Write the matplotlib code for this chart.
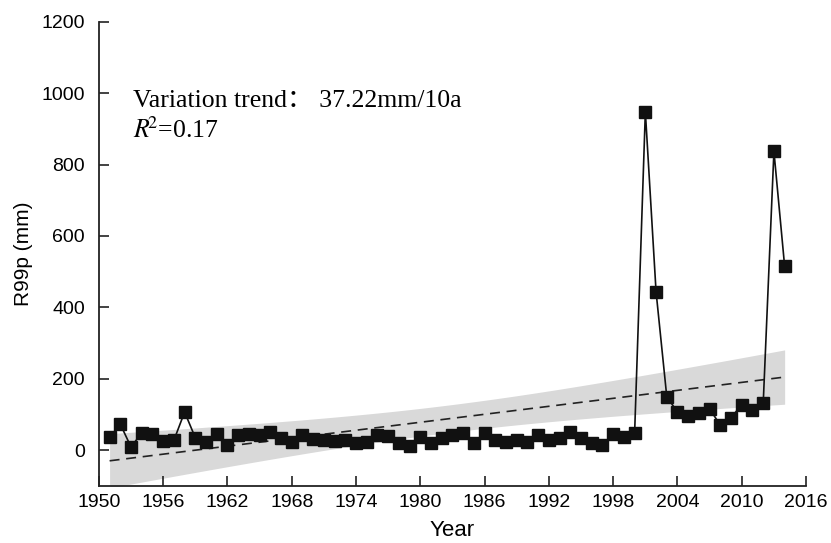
import numpy as np
import matplotlib
matplotlib.use("Agg")
import matplotlib.pyplot as plt

plt.rcParams['font.family'] = ['Liberation Sans', 'DejaVu Sans']
plt.rcParams['mathtext.fontset'] = 'stix'

# annual R99p (mm), 1951-2014
years = np.arange(1951, 2015)
r99p = [37, 73, 9, 49, 46, 25, 28, 107, 35, 23,
        46, 14, 44, 46, 44, 51, 33, 23, 42, 31,
        29, 27, 29, 19, 23, 42, 40, 21, 13, 36,
        21, 33, 42, 49, 21, 49, 30, 23, 29, 23,
        44, 29, 33, 50, 35, 21, 14, 46, 37, 49,
        948, 444, 150, 107, 97, 105, 116, 70, 91, 128,
        114, 131, 837, 515]
trend_per_decade = 37.22
r2 = 0.17

x = years.astype(float)
y = np.array(r99p, dtype=float)
n = len(x)

# linear trend with the stated slope, passing through the data mean
slope = trend_per_decade / 10
intercept = y.mean() - slope * x.mean()
fit = intercept + slope * x

# 95% confidence band of the fitted mean
resid = y - fit
s = np.sqrt(np.sum(resid ** 2) / (n - 2))
sxx = np.sum((x - x.mean()) ** 2)
hw = 1.999 * s * np.sqrt(1 / n + (x - x.mean()) ** 2 / sxx)

fig = plt.figure(figsize=(8.31, 5.43), dpi=100)
ax = fig.add_axes([0.119, 0.105, 0.851, 0.855])

ax.fill_between(x, fit - hw, fit + hw, color='#d9d9d9', lw=0, zorder=1)
ax.plot(x, fit, ls=(0, (6, 4)), color='#222222', lw=1.2, zorder=2)
ax.plot(x, y, color='#111111', lw=1.2, marker='s', ms=8,
        mfc='#111111', mec='#111111', zorder=3)

ax.set_xlim(1950, 2016)
ax.set_ylim(-100, 1200)
ax.set_xticks(np.arange(1950, 2017, 6))
ax.set_yticks(np.arange(0, 1201, 200))

for side in ['top', 'right']:
    ax.spines[side].set_visible(False)
for side in ['left', 'bottom']:
    ax.spines[side].set_linewidth(1.3)
    ax.spines[side].set_color('#222222')
ax.tick_params(direction='in', length=7, width=1.2, labelsize=14, colors='#222222',
               labelcolor='black')
ax.tick_params(axis='y', pad=10)
ax.tick_params(axis='x', pad=6)

ax.set_xlabel('Year', fontsize=16, labelpad=6)
ax.set_ylabel('R99p (mm)', fontsize=15, labelpad=6)

ax.text(1953.2, 961, 'Variation trend\uff1a %.2fmm/10a' % trend_per_decade,
        fontsize=18.5, family=['Liberation Serif', 'Noto Sans CJK SC'], va='baseline')
ax.text(1953.2, 876, r'$R^{\!\!2}$=%.2f' % r2, fontsize=18.5,
        family=['Liberation Serif'], va='baseline')

fig.savefig('out.png', dpi=100)
